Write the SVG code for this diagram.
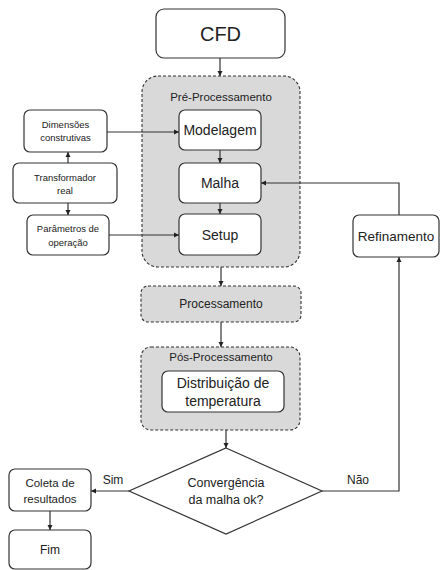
<svg xmlns="http://www.w3.org/2000/svg" width="440" height="570" viewBox="0 0 440 570">
<defs>
<marker id="ah" markerWidth="6" markerHeight="6" refX="5" refY="3" orient="auto" markerUnits="userSpaceOnUse">
<path d="M0,0.5 L5,3 L0,5.5 Z" fill="#222"/>
</marker>
<style>
text{font-family:"Liberation Sans",Arial,sans-serif;fill:#222;text-anchor:middle;dominant-baseline:central}
.box{fill:#fff;stroke:#333;stroke-width:1.2}
.grp{fill:#d9d9d9;stroke:#333;stroke-width:1.1;stroke-dasharray:3,2}
.ln{fill:none;stroke:#333;stroke-width:1.2}
.arr{fill:none;stroke:#333;stroke-width:1.2;marker-end:url(#ah)}
</style>
</defs>
<rect width="440" height="570" fill="#fff"/>
<g id="cfd"><rect class="box" x="156" y="9" width="129" height="49" rx="8"/><text x="220.5" y="34" font-size="20">CFD</text></g>
<g id="pre"><rect class="grp" x="142" y="76" width="158" height="191" rx="16"/><text x="221" y="97" font-size="11.5">Pré-Processamento</text></g>
<g id="modelagem"><rect class="box" x="179" y="110" width="82" height="40" rx="6"/><text x="220" y="130" font-size="14">Modelagem</text></g>
<g id="malha"><rect class="box" x="179" y="163" width="82" height="40" rx="6"/><text x="220" y="183" font-size="14">Malha</text></g>
<g id="setup"><rect class="box" x="179" y="214" width="82" height="41" rx="6"/><text x="220" y="235" font-size="14">Setup</text></g>
<g id="dimensoes"><rect class="box" x="24" y="110" width="83" height="42" rx="6"/><text x="65.5" y="124" font-size="9.5">Dimensões</text><text x="65.5" y="137" font-size="9.5">construtivas</text></g>
<g id="transformador"><rect class="box" x="13" y="163" width="104" height="40" rx="6"/><text x="65" y="177" font-size="9.5">Transformador</text><text x="65" y="190" font-size="9.5">real</text></g>
<g id="parametros"><rect class="box" x="27" y="215" width="82" height="40" rx="6"/><text x="68" y="228" font-size="9.5">Parâmetros de</text><text x="68" y="242" font-size="9.5">operação</text></g>
<g id="refinamento"><rect class="box" x="353" y="215" width="86" height="42" rx="6"/><text x="396" y="236" font-size="13.5">Refinamento</text></g>
<g id="processamento"><rect class="grp" x="141" y="286" width="160" height="36" rx="7"/><text x="221" y="304" font-size="12">Processamento</text></g>
<g id="pos"><rect class="grp" x="141" y="347" width="159" height="83" rx="10"/><text x="221" y="357" font-size="11.5">Pós-Processamento</text></g>
<g id="distribuicao"><rect class="box" x="162" y="371" width="122" height="41" rx="6"/><text x="223" y="383" font-size="14">Distribuição de</text><text x="223" y="401" font-size="14">temperatura</text></g>
<g id="convergencia"><polygon class="box" points="226,448 322,491 226,534 129,491"/><text x="226" y="483" font-size="12.5">Convergência</text><text x="226" y="500" font-size="12.5">da malha ok?</text></g>
<g id="coleta"><rect class="box" x="9" y="469" width="82" height="42" rx="6"/><text x="50" y="483" font-size="11.5">Coleta de</text><text x="50" y="499" font-size="11.5">resultados</text></g>
<g id="fim"><rect class="box" x="9" y="530" width="82" height="39" rx="6"/><text x="50" y="550" font-size="12">Fim</text></g>
<g id="connectors">
<line class="arr" x1="220" y1="58" x2="220" y2="76"/>
<line class="arr" x1="220" y1="150" x2="220" y2="163"/>
<line class="arr" x1="220" y1="203" x2="220" y2="214"/>
<line class="arr" x1="107" y1="132" x2="179" y2="132"/>
<line class="arr" x1="109" y1="235" x2="179" y2="235"/>
<line class="arr" x1="68" y1="163" x2="68" y2="152"/>
<line class="arr" x1="68" y1="203" x2="68" y2="215"/>
<line class="arr" x1="221" y1="267" x2="221" y2="286"/>
<line class="arr" x1="221" y1="322" x2="221" y2="347"/>
<line class="arr" x1="226" y1="430" x2="226" y2="448"/>
<line class="arr" x1="129" y1="491" x2="91" y2="491"/>
<line class="arr" x1="50" y1="511" x2="50" y2="530"/>
<polyline class="arr" points="322,491 399,491 399,257"/>
<polyline class="arr" points="399,215 399,183 261,183"/>
<text x="113" y="480" font-size="12">Sim</text>
<text x="358" y="480" font-size="12">Não</text>
</g>
</svg>
